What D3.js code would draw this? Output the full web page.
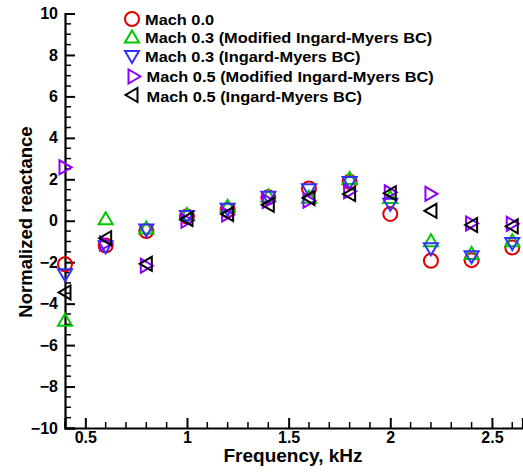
<!DOCTYPE html>
<html>
<meta charset="utf-8">
<style>
body { margin: 0; background: #fff; }
text { font-family: "Liberation Sans", Arial, sans-serif; font-weight: bold; }
</style>
<body>
<script src="https://d3js.org/d3.v7.min.js"></script>
<script>
var width = 523,
    height = 472;

// frequencies, kHz
var freq = [0.4, 0.6, 0.8, 1.0, 1.2, 1.4, 1.6, 1.8, 2.0, 2.2, 2.4, 2.6];

var mach00      = [-2.1, -1.2, -0.5, 0.2, 0.52, 1.13, 1.56, 1.88, 0.33, -1.93, -1.9, -1.29];
var mach03Mod   = [-4.8, 0.1, -0.35, 0.3, 0.7, 1.2, 1.13, 2.04, 1.12, -0.97, -1.58, -0.97];
var mach03IM    = [-2.6, -1.25, -0.45, 0.2, 0.55, 1.13, 1.5, 1.85, 0.8, -1.35, -1.74, -1.1];
var mach05Mod   = [2.58, -1.1, -2.17, 0.0, 0.3, 0.95, 0.97, 1.42, 1.37, 1.3, -0.13, -0.15];
var mach05IM    = [-3.46, -0.84, -2.08, 0.08, 0.32, 0.77, 1.1, 1.29, 1.33, 0.48, -0.2, -0.27];

var seriesNames = ["Mach 0.0", "Mach 0.3 (Modified Ingard-Myers BC)", "Mach 0.3 (Ingard-Myers BC)",
                   "Mach 0.5 (Modified Ingard-Myers BC)", "Mach 0.5 (Ingard-Myers BC)"];
var seriesValues = [mach00, mach03Mod, mach03IM, mach05Mod, mach05IM];
var seriesColors = ["#e00000", "#00c800", "#3232ff", "#8c00ff", "#000000"];
var seriesShapes = ["circle", "up", "down", "right", "left"];

var xTicks = [0.5, 1, 1.5, 2, 2.5];
var yTicks = [-10, -8, -6, -4, -2, 0, 2, 4, 6, 8, 10];

var x = d3.scaleLinear().domain([0.4, 2.65]).range([65, 65 + 2.25 * 203.3]);
var y = d3.scaleLinear().domain([-10, 10]).range([428, 13.5]);

var svg = d3.select("body").append("svg")
    .attr("width", width)
    .attr("height", height);

// minor ticks
var xMinor = d3.range(0.4, 2.66, 0.1).filter(function(v) { return Math.abs(v * 2 - Math.round(v * 2)) > 0.01; });
var yMinor = d3.range(-10, 10.01, 0.5).filter(function(v) { return Math.abs(v / 2 - Math.round(v / 2)) > 0.01; });

var xAxis = svg.append("g")
    .attr("transform", "translate(0," + y(-10) + ")")
    .call(d3.axisBottom(x).tickValues(xTicks).tickSize(-10).tickPadding(4).tickFormat(d3.format("")));
var yAxis = svg.append("g")
    .attr("transform", "translate(" + x(0.4) + ",0)")
    .call(d3.axisLeft(y).tickValues(yTicks).tickSize(-10).tickPadding(7));

[xAxis, yAxis].forEach(function(g) {
  g.select(".domain").attr("stroke-width", 2.2);
  g.selectAll(".tick line").attr("stroke-width", 2);
  g.selectAll(".tick text").attr("font-size", 16).attr("font-family", "Liberation Sans, Arial, sans-serif").attr("font-weight", "bold").attr("fill", "#000");
});

svg.append("g").selectAll("line").data(xMinor).enter().append("line")
    .attr("x1", function(d) { return x(d); }).attr("x2", function(d) { return x(d); })
    .attr("y1", y(-10)).attr("y2", y(-10) - 6)
    .attr("stroke", "#000").attr("stroke-width", 1.5);
svg.append("g").selectAll("line").data(yMinor).enter().append("line")
    .attr("y1", function(d) { return y(d); }).attr("y2", function(d) { return y(d); })
    .attr("x1", x(0.4)).attr("x2", x(0.4) + 6)
    .attr("stroke", "#000").attr("stroke-width", 1.5);

// axis titles
svg.append("text")
    .attr("x", 293).attr("y", 462)
    .attr("text-anchor", "middle")
    .attr("font-size", 19)
    .text("Frequency, kHz");
svg.append("text")
    .attr("transform", "translate(32,222) rotate(-90)")
    .attr("text-anchor", "middle")
    .attr("font-size", 18.5)
    .text("Normalized reactance");

// marker paths
function markerPath(shape) {
  var w = 7, t = 6.5, b = 5.5;
  if (shape == "up") return "M0," + (-t) + "L" + w + "," + b + "L" + (-w) + "," + b + "Z";
  if (shape == "down") return "M0," + t + "L" + w + "," + (-b) + "L" + (-w) + "," + (-b) + "Z";
  if (shape == "right") return "M" + t + ",0L" + (-b) + "," + w + "L" + (-b) + "," + (-w) + "Z";
  if (shape == "left") return "M" + (-t) + ",0L" + b + "," + w + "L" + b + "," + (-w) + "Z";
  return "";
}

function drawMarker(sel, shape, color) {
  if (shape == "circle") {
    sel.append("circle").attr("r", 7).attr("fill", "none").attr("stroke", color).attr("stroke-width", 2);
  } else {
    sel.append("path").attr("d", markerPath(shape)).attr("fill", "none").attr("stroke", color).attr("stroke-width", 2);
  }
}

seriesValues.forEach(function(vals, i) {
  var g = svg.append("g");
  g.selectAll("g").data(vals).enter().append("g")
      .attr("transform", function(d, j) { return "translate(" + x(freq[j]) + "," + y(d) + ")"; })
      .each(function() { drawMarker(d3.select(this), seriesShapes[i], seriesColors[i]); });
});

// legend
var legendY = [19, 37, 56.5, 76.5, 95];
var legendBase = [25, 43.3, 61.8, 82, 101.5];
var legend = svg.append("g");
seriesNames.forEach(function(name, i) {
  var lx = i == 3 ? 134 : 132;
  var item = legend.append("g").attr("transform", "translate(" + lx + "," + legendY[i] + ")");
  drawMarker(item, seriesShapes[i], seriesColors[i]);
  var tx = (i >= 3) ? 146.5 : 145;
  legend.append("text")
      .attr("transform", "translate(" + tx + "," + legendBase[i] + ") scale(1.17,1)")
      .attr("font-size", 14)
      .text(name);
});
</script>
</body>
</html>
